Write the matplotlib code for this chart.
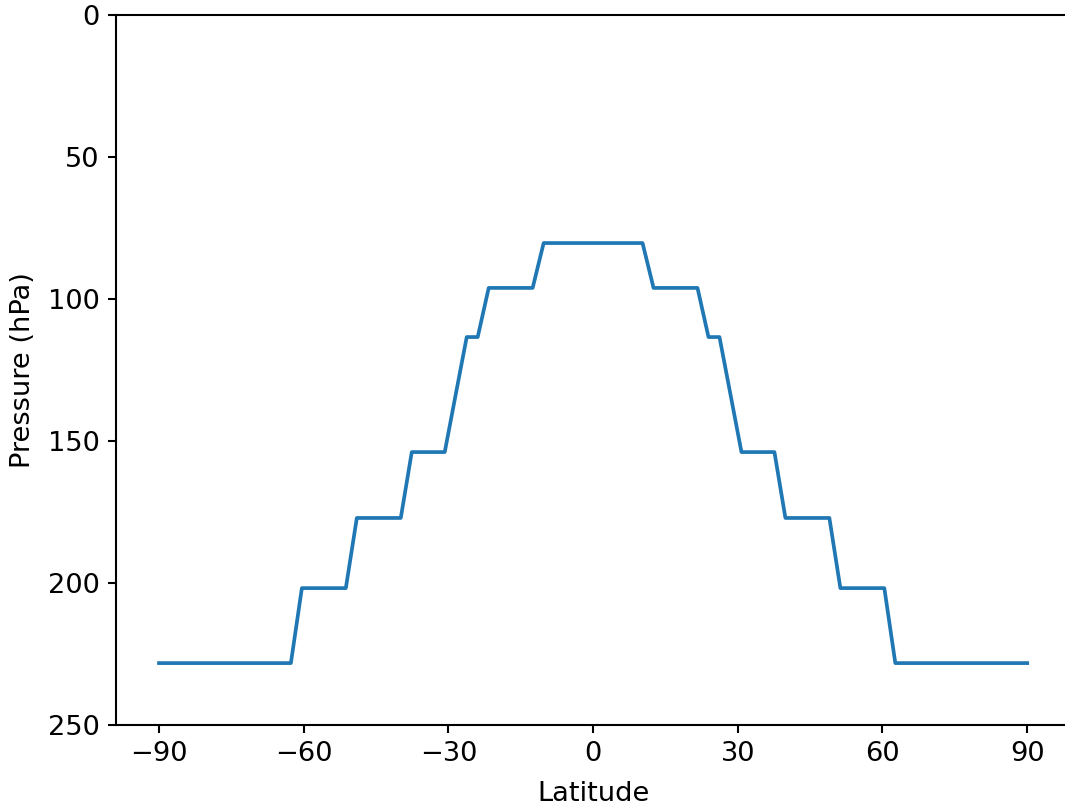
import numpy as np
import matplotlib.pyplot as plt

# latitude grid (80 points from pole to pole)
lat = np.linspace(-90, 90, 80)

# tropopause pressure on the southern half (index 0..39), mirrored for the north
p_south = [228.2] * 13 + [201.8] * 5 + [177.1] * 5 + [153.9] * 4 + [133.6] \
    + [113.4] * 2 + [96.1] * 5 + [80.3] * 5
pressure = np.array(p_south + p_south[::-1])

xticks = [-90, -60, -30, 0, 30, 60, 90]
yticks = [0, 50, 100, 150, 200, 250]

plt.rcParams["font.size"] = 11.8
plt.rcParams["axes.linewidth"] = 0.9
plt.rcParams["xtick.major.width"] = 0.9
plt.rcParams["ytick.major.width"] = 0.9

dpi = 1065 / 6.4
fig = plt.figure(figsize=(6.4, 806 / dpi), dpi=dpi)
ax = fig.add_axes([115.6 / 1065, 81 / 806, 955 / 1065, 710 / 806])

ax.plot(lat, pressure, lw=1.6, color="tab:blue")

ax.set_ylim(250, 0)
ax.set_xticks(xticks)
ax.set_yticks(yticks)
ax.set_xlabel("Latitude", labelpad=6)
ax.set_ylabel("Pressure (hPa)", labelpad=5)

fig.savefig("out.png", dpi=dpi)
